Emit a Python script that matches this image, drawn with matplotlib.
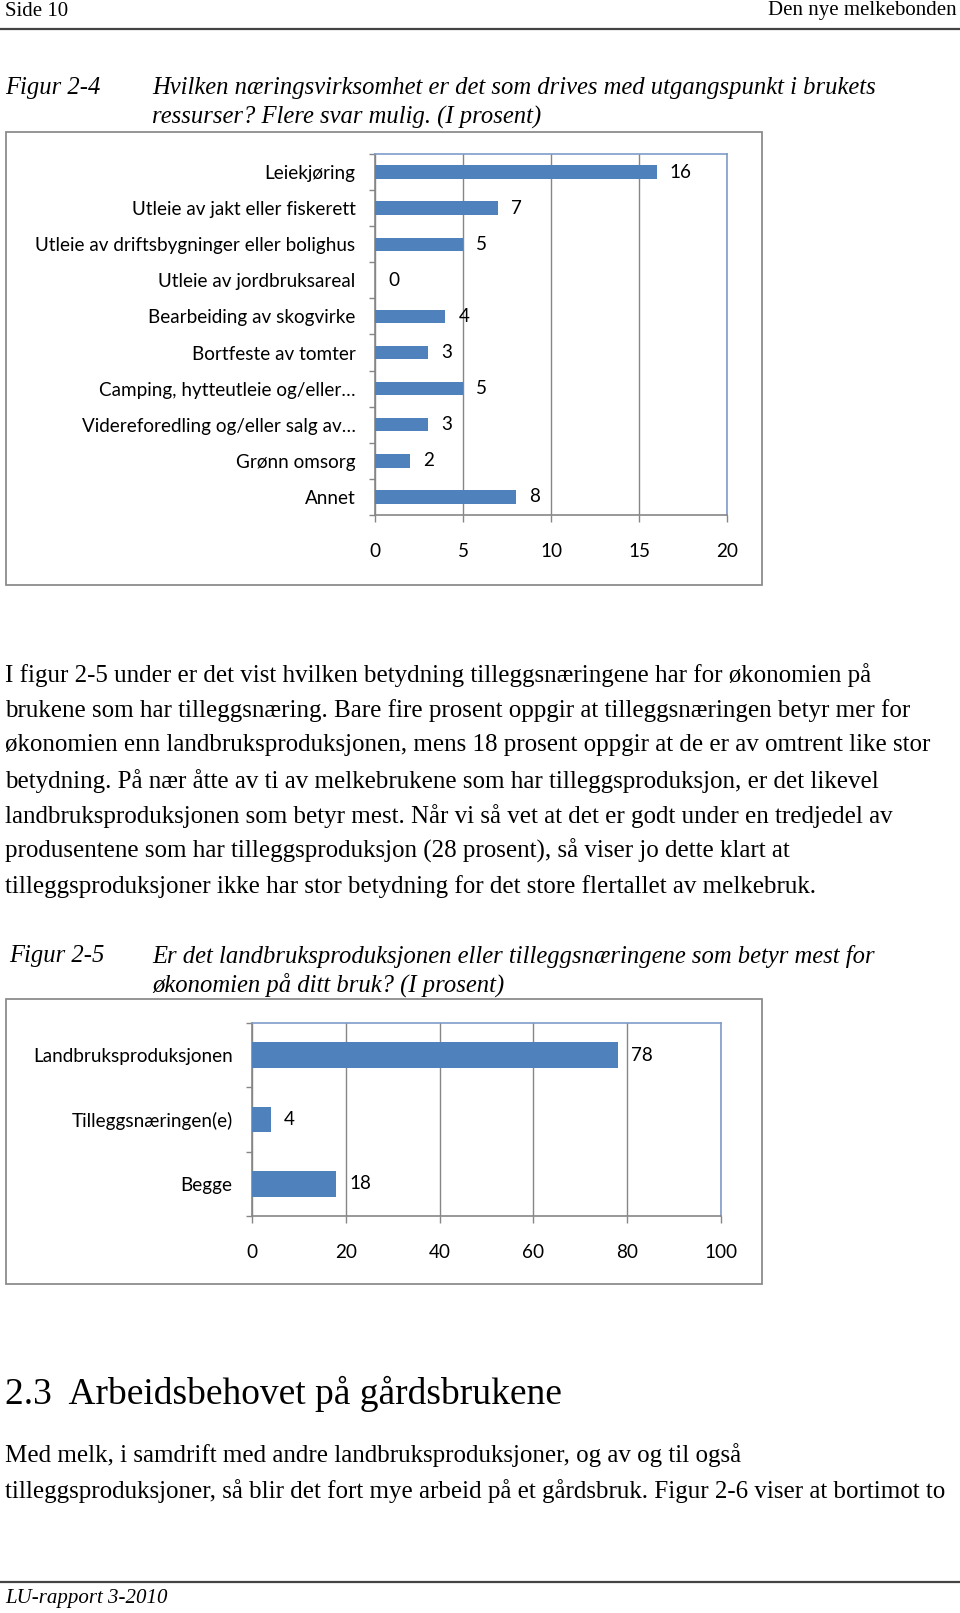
import numpy as np
import matplotlib
matplotlib.use("Agg")
import matplotlib.pyplot as plt
from matplotlib.patches import Rectangle
from matplotlib.lines import Line2D

# Figur 2-4 data
cats1 = ["Leiekjøring", "Utleie av jakt eller fiskerett",
         "Utleie av driftsbygninger eller bolighus", "Utleie av jordbruksareal",
         "Bearbeiding av skogvirke", "Bortfeste av tomter",
         "Camping, hytteutleie og/eller…", "Videreforedling og/eller salg av…",
         "Grønn omsorg", "Annet"]
vals1 = [16, 7, 5, 0, 4, 3, 5, 3, 2, 8]
ticks1 = [0, 5, 10, 15, 20]

# Figur 2-5 data
cats2 = ["Landbruksproduksjonen", "Tilleggsnæringen(e)", "Begge"]
vals2 = [78, 4, 18]
ticks2 = [0, 20, 40, 60, 80, 100]

W, H = 960, 1613
BLUE = "#4F81BD"
GRID = "#868686"
SANS = "Lato"
SERIF = "Liberation Serif"
FS = 13.6   # chart font size
BODY = 18   # body text size

fig = plt.figure(figsize=(W / 100, H / 100), dpi=100)


def fx(x):
    return x / W


def fy(y):
    return 1 - y / H


def text(x, y, s, size, **kw):
    fig.text(fx(x), fy(y), s, fontsize=size, va="center", **kw)


def hline(y, x0, x1, color, lw):
    fig.add_artist(Line2D([fx(x0), fx(x1)], [fy(y), fy(y)], color=color, lw=lw))


def box(x0, y0, x1, y1):
    fig.add_artist(Rectangle((fx(x0), fy(y1)), fx(x1) - fx(x0), fy(y0) - fy(y1),
                             fill=False, edgecolor="#8c8c8c", lw=1.3))


def barchart(cats, vals, ticks, left, top, right, bottom, width, pad_y):
    ax = fig.add_axes([fx(left), fy(bottom), fx(right) - fx(left), fy(top) - fy(bottom)])
    n = len(cats)
    pos = np.arange(n)
    bars = ax.barh(pos, vals, height=width, color=BLUE, zorder=3)
    ax.bar_label(bars, labels=[str(v) for v in vals], padding=9.5,
                 fontsize=FS, family=SANS, color="black")
    ax.set_xlim(ticks[0], ticks[-1])
    ax.set_ylim(n - 0.5, -0.5)
    ax.set_xticks(ticks)
    ax.set_xticklabels([str(t) for t in ticks], fontsize=FS, family=SANS)
    ax.set_yticks(np.arange(n + 1) - 0.5)
    ax.set_yticklabels([])
    ax.set_yticks(pos, minor=True)
    ax.set_yticklabels(cats, minor=True, fontsize=FS, family=SANS)
    ax.tick_params(axis="y", which="minor", length=0, pad=pad_y)
    ax.tick_params(axis="y", which="major", length=4, color=GRID, width=1)
    ax.tick_params(axis="x", length=5, color=GRID, width=1, pad=15)
    ax.grid(axis="x", color=GRID, lw=1, zorder=0)
    for s in ["left", "bottom"]:
        ax.spines[s].set_color(GRID)
        ax.spines[s].set_linewidth(1.2)
    for s in ["top", "right"]:
        ax.spines[s].set_color("#7f9cc8")
        ax.spines[s].set_linewidth(1.2)
    return ax


# header
text(5, 11, "Side 10", 15, family=SERIF)
text(957, 11, "Den nye melkebonden", 15, family=SERIF, ha="right")
hline(29, 0, 960, "#444444", 1.6)

# caption 1
text(5, 88, "Figur 2-4", 17.7, family=SERIF, style="italic")
text(152, 88, "Hvilken næringsvirksomhet er det som drives med utgangspunkt i brukets",
     17.7, family=SERIF, style="italic")
text(152, 117, "ressurser? Flere svar mulig. (I prosent)", 17.7, family=SERIF, style="italic")

box(6, 132, 762, 585)
barchart(cats1, vals1, ticks1, 375, 154, 727, 515, 0.37, 14)

# paragraph
para = [
    "I figur 2-5 under er det vist hvilken betydning tilleggsnæringene har for økonomien på",
    "brukene som har tilleggsnæring. Bare fire prosent oppgir at tilleggsnæringen betyr mer for",
    "økonomien enn landbruksproduksjonen, mens 18 prosent oppgir at de er av omtrent like stor",
    "betydning. På nær åtte av ti av melkebrukene som har tilleggsproduksjon, er det likevel",
    "landbruksproduksjonen som betyr mest. Når vi så vet at det er godt under en tredjedel av",
    "produsentene som har tilleggsproduksjon (28 prosent), så viser jo dette klart at",
    "tilleggsproduksjoner ikke har stor betydning for det store flertallet av melkebruk.",
]
for i, line in enumerate(para):
    text(5, 675 + i * 35.2, line, BODY, family=SERIF)

# caption 2
text(9, 956, "Figur 2-5", 17.7, family=SERIF, style="italic")
text(152, 956, "Er det landbruksproduksjonen eller tilleggsnæringene som betyr mest for",
     17.7, family=SERIF, style="italic")
text(152, 985, "økonomien på ditt bruk? (I prosent)", 17.7, family=SERIF, style="italic")

box(6, 999, 762, 1284)
barchart(cats2, vals2, ticks2, 252, 1023, 721, 1216, 0.40, 14)

# section heading
text(5, 1394, "2.3  Arbeidsbehovet på gårdsbrukene", 27, family=SERIF)
text(5, 1455, "Med melk, i samdrift med andre landbruksproduksjoner, og av og til også", BODY, family=SERIF)
text(5, 1491, "tilleggsproduksjoner, så blir det fort mye arbeid på et gårdsbruk. Figur 2-6 viser at bortimot to",
     BODY, family=SERIF)

# footer
hline(1582, 0, 960, "#444444", 1.6)
text(5, 1599, "LU-rapport 3-2010", 15, family=SERIF, style="italic")

fig.savefig("out.png", dpi=100)
